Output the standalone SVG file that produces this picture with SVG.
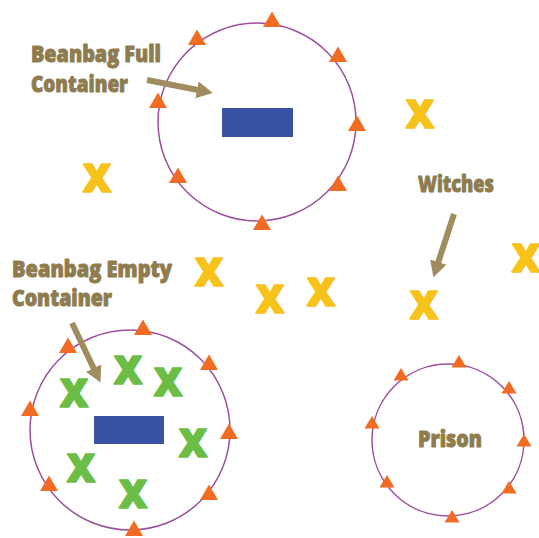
<svg xmlns="http://www.w3.org/2000/svg" width="539" height="538" viewBox="0 0 539 538">
  <style>
    .ring { fill: none; stroke: #9B4F9E; stroke-width: 1.5; }
    .tri { fill: #F26B22; }
    .bag { fill: #3853A4; }
    .lbl { font-family: "Open Sans", "Liberation Sans", sans-serif; font-weight: 800; font-size: 22px; fill: #8E7C4F; stroke: #8E7C4F; stroke-width: 0.9; stroke-linejoin: round; }
    .xw { font-family: "Open Sans", "Liberation Sans", sans-serif; font-weight: 800; font-size: 39px; text-anchor: middle; stroke-width: 1.6; stroke-linejoin: round; }
    .yel { fill: #F7C21A; stroke: #F7C21A; }
    .grn { fill: #6CBD45; stroke: #6CBD45; }
    .arr { stroke: #A08D5F; stroke-width: 6; fill: none; marker-end: url(#head); }
  </style>
  <defs>
    <path id="tri" d="M0,-8.5 L9,7 L-9,7 Z"/>
    <path id="tris" d="M0,-7 L7.5,5.5 L-7.5,5.5 Z"/>
    <marker id="head" markerUnits="userSpaceOnUse" viewBox="0 -9 16 18" markerWidth="16" markerHeight="18" refX="1" refY="0" orient="auto">
      <path d="M0,-8.5 L16,0 L0,8.5 Z" fill="#A08D5F"/>
    </marker>
  </defs>
  <rect width="539" height="538" fill="#FFFFFF"/>

  <g id="full-container">
    <circle class="ring" cx="257" cy="122" r="99"/>
    <rect class="bag" x="222" y="108" width="71" height="29"/>
    <g class="tri">
      <use href="#tri" x="272" y="20"/>
      <use href="#tri" x="197" y="38"/>
      <use href="#tri" x="338" y="55"/>
      <use href="#tri" x="158" y="101"/>
      <use href="#tri" x="357" y="124"/>
      <use href="#tri" x="178" y="176"/>
      <use href="#tri" x="338" y="184"/>
      <use href="#tri" x="262" y="223"/>
    </g>
  </g>

  <g id="empty-container">
    <circle class="ring" cx="130" cy="430" r="100"/>
    <rect class="bag" x="94" y="416" width="70" height="28"/>
    <g class="tri">
      <use href="#tri" x="143" y="328"/>
      <use href="#tri" x="68" y="346"/>
      <use href="#tri" x="209" y="363"/>
      <use href="#tri" x="30" y="409"/>
      <use href="#tri" x="229" y="432"/>
      <use href="#tri" x="49" y="484"/>
      <use href="#tri" x="209" y="493"/>
      <use href="#tri" x="134" y="529"/>
    </g>
    <g class="xw grn">
      <text x="74" y="407">X</text>
      <text x="128" y="384">X</text>
      <text x="168" y="396">X</text>
      <text x="193" y="457">X</text>
      <text x="81" y="482">X</text>
      <text x="133" y="508">X</text>
    </g>
  </g>

  <g id="prison">
    <circle class="ring" cx="448" cy="440" r="76"/>
    <g class="tri">
      <use href="#tris" x="459" y="362"/>
      <use href="#tris" x="401" y="375"/>
      <use href="#tris" x="509" y="388"/>
      <use href="#tris" x="372" y="423"/>
      <use href="#tris" x="524" y="441"/>
      <use href="#tris" x="387" y="482"/>
      <use href="#tris" x="509" y="488"/>
      <use href="#tris" x="452" y="517"/>
    </g>
    <text class="lbl" x="418" y="447" textLength="64" lengthAdjust="spacingAndGlyphs">Prison</text>
  </g>

  <g id="witches" class="xw yel">
    <text x="97" y="192">X</text>
    <text x="420" y="128">X</text>
    <text x="209" y="286">X</text>
    <text x="270" y="313">X</text>
    <text x="321" y="306">X</text>
    <text x="526" y="272">X</text>
    <text x="424" y="319">X</text>
  </g>

  <g id="label-full">
    <text class="lbl" x="31" y="62" textLength="130" lengthAdjust="spacingAndGlyphs">Beanbag Full</text>
    <text class="lbl" x="31" y="91.5" textLength="97" lengthAdjust="spacingAndGlyphs">Container</text>
  </g>
  <g id="label-empty">
    <text class="lbl" x="12" y="276.5" textLength="160" lengthAdjust="spacingAndGlyphs">Beanbag Empty</text>
    <text class="lbl" x="12" y="306" textLength="100" lengthAdjust="spacingAndGlyphs">Container</text>
  </g>
  <g id="label-witches">
    <text class="lbl" x="418" y="192" textLength="76" lengthAdjust="spacingAndGlyphs">Witches</text>
  </g>

  <g id="connectors">
    <line class="arr" x1="147" y1="80" x2="198" y2="90"/>
    <line class="arr" x1="454" y1="214" x2="438" y2="263"/>
    <line class="arr" x1="72" y1="323" x2="94" y2="369"/>
  </g>
</svg>
